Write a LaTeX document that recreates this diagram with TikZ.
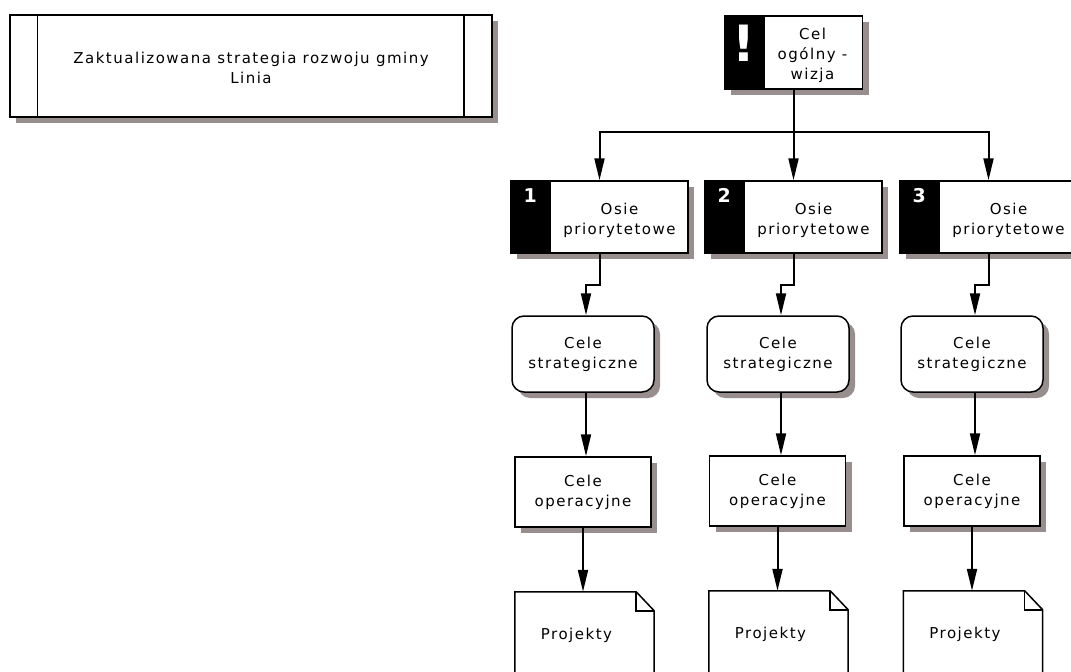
\documentclass[tikz,border=0pt]{standalone}
\usepackage{fontspec}
\setmainfont[LetterSpace=10]{DejaVu Sans}
\newfontfamily\markfont{DejaVu Sans}
\usepackage{tikz}
\usetikzlibrary{shapes,arrows.meta,shadows}
\definecolor{shadowgray}{RGB}{152,142,142}
\newcommand{\docshape}[1]{%
  \fill[shadowgray,shift={(6pt,-6pt)}] (#1.north west) -- ([xshift=-18pt]#1.north east) -- ([yshift=-19pt]#1.north east) -- (#1.south east) -- (#1.south west) -- cycle;
  \draw[line width=1.5pt,fill=white] (#1.north west) -- ([xshift=-18pt]#1.north east) -- ([yshift=-19pt]#1.north east) -- (#1.south east) -- (#1.south west) -- cycle;
  \draw[line width=1.5pt] ([xshift=-18pt]#1.north east) -- ([xshift=-18pt,yshift=-19pt]#1.north east) -- ([yshift=-19pt]#1.north east);}
\newcommand{\band}[1]{%
  \fill (#1.north west) rectangle ([xshift=41pt]#1.south west);}

\begin{document}
\begin{tikzpicture}[x=1pt,y=-1pt,every node/.style={inner sep=0pt},
  box/.style={draw,line width=1.5pt,fill=white,drop shadow={shadow xshift=6pt,shadow yshift=-6pt,fill=shadowgray,opacity=1}},
  txt/.style={align=center,font=\fontsize{15}{20}\selectfont},
  num/.style={text=white,font=\markfont\fontsize{19}{19}\selectfont\bfseries},
  flow/.style={line width=2pt,-{Triangle[width=10pt,length=22pt]}}]
\useasboundingbox (0,0) rectangle (1071,672);
\clip (0,0) rectangle (1071,672);
% title
\node[box,minimum width=482pt,minimum height=102pt](title) at (251,66){} ;
\draw[line width=1.5pt] ([xshift=28pt]title.north west) -- ([xshift=28pt]title.south west);
\draw[line width=1.5pt] ([xshift=-29pt]title.north east) -- ([xshift=-29pt]title.south east);
\node[txt](titletext) at ([yshift=-2pt]title.center){Zaktualizowana strategia rozwoju gminy\\Linia} ;
% top
\node[box,minimum width=138pt,minimum height=73pt](cel) at (793.5,52.5){} ;
\band{cel}
\node[text=white,font=\markfont\fontsize{50}{50}\selectfont\bfseries](excl) at ([xshift=20pt,yshift=9pt]cel.west){!} ;
\node[txt](celtext) at ([xshift=19pt,yshift=-3pt]cel.center){Cel\\ogólny -\\wizja} ;
\coordinate(bus) at (793.5,132) ;
% priorities
\node[box,minimum width=177pt,minimum height=72pt](osie1) at (599.5,217){} ;
\node[box,minimum width=177pt,minimum height=72pt](osie2) at (793.5,217){} ;
\node[box,minimum width=177pt,minimum height=72pt](osie3) at (988.5,217){} ;
\band{osie1}
\band{osie2}
\band{osie3}
\node[num](n1) at ([xshift=20pt,yshift=-15pt]osie1.north west){1} ;
\node[num](n2) at ([xshift=20pt,yshift=-15pt]osie2.north west){2} ;
\node[num](n3) at ([xshift=20pt,yshift=-15pt]osie3.north west){3} ;
\node[txt](osietext1) at ([xshift=20pt,yshift=-3pt]osie1.center){Osie\\priorytetowe} ;
\node[txt](osietext2) at ([xshift=20pt,yshift=-3pt]osie2.center){Osie\\priorytetowe} ;
\node[txt](osietext3) at ([xshift=20pt,yshift=-3pt]osie3.center){Osie\\priorytetowe} ;
% strategic goals
\node[box,txt,rounded corners=12pt,minimum width=142pt,minimum height=76pt](strat1) at (583,354){Cele\\strategiczne} ;
\node[box,txt,rounded corners=12pt,minimum width=142pt,minimum height=76pt](strat2) at (778,354){Cele\\strategiczne} ;
\node[box,txt,rounded corners=12pt,minimum width=142pt,minimum height=76pt](strat3) at (972,354){Cele\\strategiczne} ;
% operational goals
\node[box,txt,minimum width=136pt,minimum height=70pt](oper1) at (583,492){Cele\\operacyjne} ;
\node[box,txt,minimum width=136pt,minimum height=70pt](oper2) at (777.5,491){Cele\\operacyjne} ;
\node[box,txt,minimum width=136pt,minimum height=70pt](oper3) at (972,491){Cele\\operacyjne} ;
% projects
\node[minimum width=139pt,minimum height=120pt](proj1) at (584.5,652){} ;
\node[minimum width=139pt,minimum height=120pt](proj2) at (778.5,651){} ;
\node[minimum width=139pt,minimum height=120pt](proj3) at (973,651){} ;
\docshape{proj1}
\docshape{proj2}
\docshape{proj3}
\node[txt](projtext1) at ([xshift=-8pt,yshift=-44pt]proj1.north){Projekty} ;
\node[txt](projtext2) at ([xshift=-8pt,yshift=-44pt]proj2.north){Projekty} ;
\node[txt](projtext3) at ([xshift=-8pt,yshift=-44pt]proj3.north){Projekty} ;
% connectors
\draw[flow](cel.south) -- (bus) -| (osie1.north);
\draw[flow](bus) -- (osie2.north);
\draw[flow](bus) -| (osie3.north);
\draw[flow](osie1.south) -- ++(0,31) -| ([xshift=3pt]strat1.north);
\draw[flow](osie2.south) -- ++(0,31) -| ([xshift=3pt]strat2.north);
\draw[flow](osie3.south) -- ++(0,31) -| ([xshift=3pt]strat3.north);
\draw[flow]([xshift=3pt]strat1.south) -- ([xshift=3pt]strat1.south |- oper1.north);
\draw[flow]([xshift=3pt]strat2.south) -- ([xshift=3pt]strat2.south |- oper2.north);
\draw[flow]([xshift=3pt]strat3.south) -- ([xshift=3pt]strat3.south |- oper3.north);
\draw[flow](oper1.south) -- (oper1.south |- proj1.north);
\draw[flow](oper2.south) -- (oper2.south |- proj2.north);
\draw[flow](oper3.south) -- (oper3.south |- proj3.north);
\end{tikzpicture}
\end{document}
